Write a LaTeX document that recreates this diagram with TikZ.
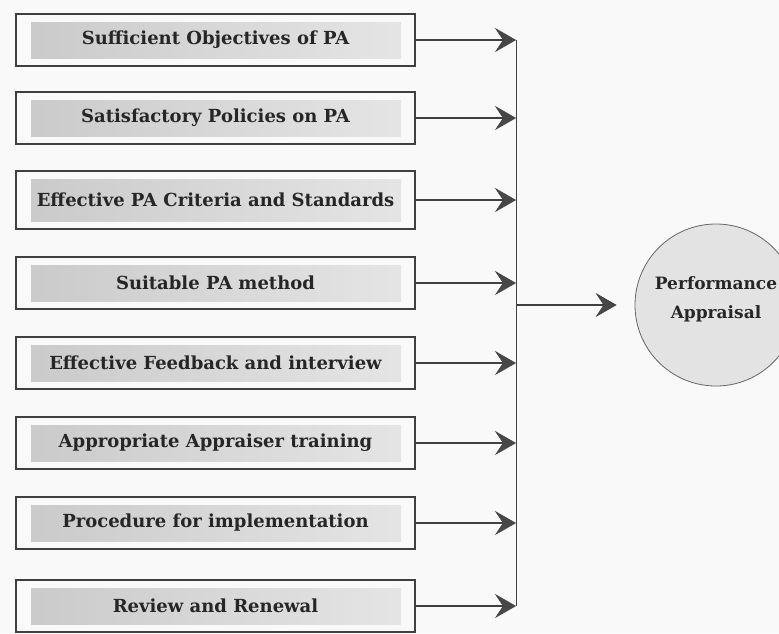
\documentclass[tikz,border=0pt]{standalone}
\usepackage{fontspec}
\setmainfont{DejaVu Serif}
\usetikzlibrary{arrows.meta}
\begin{document}
\begin{tikzpicture}[x=1pt,y=-1pt,font=\bfseries\fontsize{18}{26}\selectfont,
	factor/.style={draw=black!75,line width=1.1pt,minimum width=399pt,inner sep=0pt,text=black!85,
		path picture={\shade[left color=gray!42,right color=gray!20]
			([shift={(15pt,-8pt)}]path picture bounding box.north west) rectangle
			([shift={(-14pt,8pt)}]path picture bounding box.south east);}},
	feed/.style={-{Stealth[length=21pt,width=24pt,inset=8pt,fill=black!72,line width=0.5pt]},line width=1.1pt,draw=black!75}]
	\useasboundingbox[fill=gray!5] (0,0) rectangle (779,633);
	\foreach \i/\y/\h/\t in {1/40/52/Sufficient Objectives of PA, 2/118/52/Satisfactory Policies on PA,
		3/200/58/Effective PA Criteria and Standards, 4/283/52/Suitable PA method,
		5/363/52/Effective Feedback and interview, 6/443/52/Appropriate Appraiser training,
		7/523/52/Procedure for implementation, 8/606/52/Review and Renewal}{
		\node[factor,minimum height=\h pt] (b\i) at (215.5,\y) {\t};
		\coordinate (j\i) at (516,\y);
		\draw[feed] (b\i.east) -- (j\i);
	}
	\draw[line width=1pt,black!75] (j1) -- (j8);
	\coordinate (jm) at (516,305);
	\node[circle,draw=black!60,line width=0.8pt,fill=gray!22,minimum size=162pt,align=center,text=black!85,
		font=\bfseries\fontsize{17}{29}\selectfont,text depth=14pt] (pa) at (716,305) {Performance\\Appraisal};
	\draw[feed,shorten >=18pt] (jm) -- (pa.west);
\end{tikzpicture}
\end{document}
